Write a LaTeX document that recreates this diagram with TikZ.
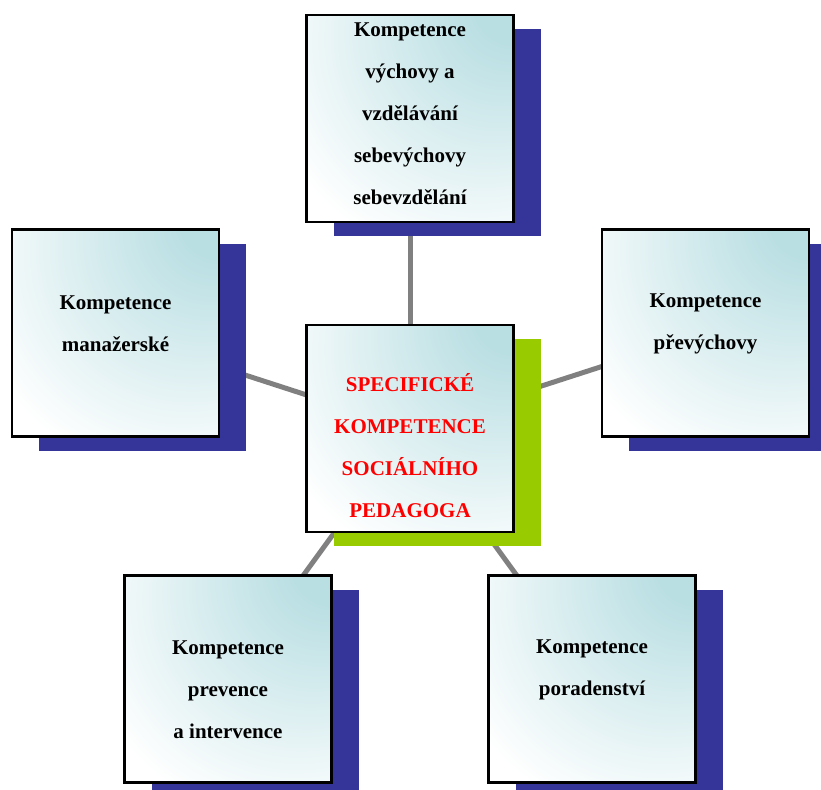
\documentclass[tikz,border=0pt]{standalone}
\usepackage{fontspec}
\setmainfont{Liberation Serif}
\usetikzlibrary{positioning,shadows,backgrounds}
\definecolor{ShadowBlue}{RGB}{53,53,153}
\definecolor{ShadowGreen}{RGB}{153,204,0}
\definecolor{SoftTeal}{RGB}{186,223,227}
\definecolor{LinkGray}{RGB}{128,128,128}
\pgfdeclareradialshading{boxglow}{\pgfpoint{28bp}{31bp}}{%
  color(0bp)=(SoftTeal); color(10bp)=(SoftTeal);
  color(50bp)=(white); color(100bp)=(white)}
\tikzset{
  compbox/.style={draw=black,line width=2.2pt,minimum width=207pt,minimum height=207pt,
    inner sep=0pt,outer sep=0pt,shade,shading=boxglow,
    drop shadow={shadow xshift=27pt,shadow yshift=-14pt,fill=ShadowBlue,opacity=1}},
  centerbox/.style={compbox,
    drop shadow={shadow xshift=27pt,shadow yshift=-14pt,fill=ShadowGreen,opacity=1}},
  boxtext/.style={align=center,font=\fontsize{21pt}{42pt}\selectfont\bfseries},
  link/.style={line width=5pt,LinkGray}
}

\begin{document}
\begin{tikzpicture}[x=1pt,y=-1pt]
  \useasboundingbox (0,0) rectangle (821,789);
  \clip (0,0) rectangle (821,789);
  % boxes
  \node[centerbox] (spec) at (410,428.5) {};
  \node[compbox] (vych) at (410,118.5) {};
  \node[compbox] (man) at (115.5,333) {};
  \node[compbox] (prev) at (705.5,333) {};
  \node[compbox] (inter) at (228,679) {};
  \node[compbox] (porad) at (592,679) {};
  % texts
  \node[boxtext,text=red] (spec-t) at ([yshift=-17pt]spec.center)
    {SPECIFICKÉ\\KOMPETENCE\\SOCIÁLNÍHO\\PEDAGOGA};
  \node[boxtext] (vych-t) at ([yshift=5pt]vych.center)
    {Kompetence\\výchovy a\\vzdělávání\\sebevýchovy\\sebevzdělání};
  \node[boxtext] (man-t) at ([yshift=9pt]man.center) {Kompetence\\manažerské};
  \node[boxtext] (prev-t) at ([yshift=9pt]prev.center) {Kompetence\\převýchovy};
  \node[boxtext] (inter-t) at ([yshift=-11pt]inter.center)
    {Kompetence\\prevence\\a intervence};
  \node[boxtext] (porad-t) at ([yshift=9pt]porad.center) {Kompetence\\poradenství};
  % links behind
  \begin{scope}[on background layer]
    \foreach \b in {vych,man,prev,inter,porad}
      \draw[link] (spec.center) -- (\b.center);
  \end{scope}
\end{tikzpicture}
\end{document}
